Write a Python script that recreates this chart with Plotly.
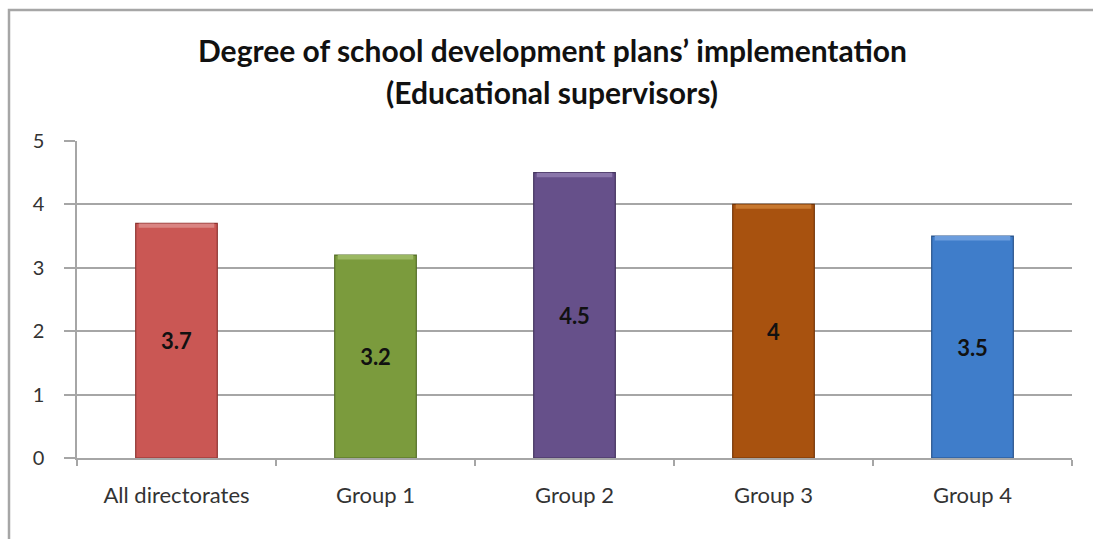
import plotly.graph_objects as go

# Chart data
categories = ["All directorates", "Group 1", "Group 2", "Group 3", "Group 4"]
values = [3.7, 3.2, 4.5, 4.0, 3.5]
value_labels = ["3.7", "3.2", "4.5", "4", "3.5"]
bar_colors = ["#CA5754", "#7B9B3D", "#66508A", "#A8520F", "#3F7DCA"]
edge_colors = ["#8E3532", "#556E27", "#44345F", "#743608", "#28538A"]
cap_colors = ["#DA8482", "#9BB862", "#8A76AA", "#C8782F", "#6C9DDD"]

y_ticks = [0, 1, 2, 3, 4, 5]

W, H = 1093, 539
ML, MR, MT, MB = 77, 21, 141, 81
PW, PH = W - ML - MR, H - MT - MB

def px_x(p):
    return (p - ML) / PW

def px_y(p):
    return (H - MB - p) / PH

BAR_W = 0.41
CAP = 0.07

fig = go.Figure()

# main bars
fig.add_trace(go.Bar(
    x=categories, y=values, width=BAR_W,
    marker=dict(color=bar_colors, line=dict(color=edge_colors, width=1.2)),
    text=value_labels, textposition="inside", insidetextanchor="middle",
    textangle=0,
    textfont=dict(family="Lato", size=22, color="#111111", weight="bold"),
    hoverinfo="skip", showlegend=False,
))
# lighter bevel at the top of each bar
fig.add_trace(go.Bar(
    x=categories, y=[CAP] * len(values), base=[v - CAP for v in values],
    width=BAR_W - 0.03,
    marker=dict(color=cap_colors, line=dict(width=0)),
    hoverinfo="skip", showlegend=False,
))

fig.update_layout(
    width=W, height=H,
    margin=dict(l=ML, r=MR, t=MT, b=MB),
    paper_bgcolor="white", plot_bgcolor="white",
    barmode="overlay",
    showlegend=False,
    font=dict(family="Lato", color="#333333"),
    xaxis=dict(
        type="category",
        tickson="boundaries", ticks="outside", ticklen=6, tickwidth=1.5,
        tickcolor="#a6a6a6",
        showline=True, linecolor="#a6a6a6", linewidth=1.5,
        showgrid=False,
        tickfont=dict(family="Lato", size=22, color="#333333"),
        ticklabelstandoff=17,
    ),
    yaxis=dict(
        range=[0, 5], tickvals=y_ticks,
        ticks="outside", ticklen=11, tickwidth=1.5, tickcolor="#a6a6a6",
        showline=True, linecolor="#a6a6a6", linewidth=1.5,
        showgrid=True, gridcolor="#a6a6a6", gridwidth=1.5,
        zeroline=False,
        tickfont=dict(family="Lato", size=20, color="#333333"),
        ticklabelstandoff=16,
    ),
    shapes=[dict(
        type="rect", xref="paper", yref="paper",
        x0=px_x(9), x1=px_x(W + 20), y0=px_y(H + 20), y1=px_y(10),
        line=dict(color="#a6a6a6", width=2.5), fillcolor="rgba(0,0,0,0)",
        layer="below",
    )],
    annotations=[
        dict(text="Degree of school development plans’ implementation",
             xref="paper", yref="paper", x=px_x(552), y=px_y(50),
             showarrow=False, xanchor="center", yanchor="middle",
             font=dict(family="Lato", size=30, color="#111111", weight="bold")),
        dict(text="(Educational supervisors)",
             xref="paper", yref="paper", x=px_x(552), y=px_y(92),
             showarrow=False, xanchor="center", yanchor="middle",
             font=dict(family="Lato", size=30, color="#111111", weight="bold")),
    ],
)

fig.write_html("out.html")
